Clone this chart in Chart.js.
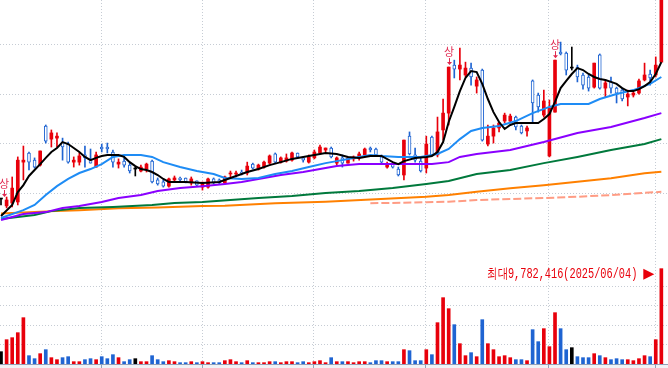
<!DOCTYPE html>
<html>
<head>
<meta charset="utf-8">
<script src="https://cdn.jsdelivr.net/npm/chart.js@4.4.1/dist/chart.umd.min.js"></script>
<style>
  html, body { margin: 0; padding: 0; background: #fff; }
  #wrap { position: relative; width: 668px; height: 368px; overflow: hidden; }
  #priceBox { position: absolute; left: 0; top: 0; width: 668px; height: 249px; }
  #volBox { position: absolute; left: 0; top: 249px; width: 668px; height: 119px; }
</style>
</head>
<body>
<div id="wrap">
  <div id="priceBox"><canvas id="price"></canvas></div>
  <div id="volBox"><canvas id="volume"></canvas></div>
</div>
<script>
//일봉 데이터 (왼쪽부터 119일): 시가, 고가, 저가, 종가, 거래량
const opens = [1885,1745,1805,1825,2630,2815,2670,2570,3360,3095,3115,3035,2995,2630,2630,2775,2695,2530,2935,2935,
  2835,2590,2650,2570,2490,2450,2490,2650,2270,2230,2145,2270,2310,2310,2210,2250,2125,2125,2290,2270,
  2210,2390,2390,2430,2410,2590,2490,2530,2610,2795,2630,2650,2670,2815,2715,2630,2715,2815,2875,2915,
  2610,2715,2610,2695,2715,2775,2915,2895,2735,2530,2590,2490,2370,3155,2775,2650,2510,3135,2775,3280,
  3620,4590,4510,4390,4530,4165,4490,2995,3155,3320,3460,3460,3540,3360,3260,4270,3985,3580,2755,3640,
  4855,4835,4530,4550,4390,4350,4145,4795,4125,4250,4125,4085,3945,3985,4025,4290,4410,4390,4650];
const highs = [1885,1925,2330,2735,2955,2835,2715,2855,3380,3280,3220,3115,3035,2735,2815,2955,2895,2835,2995,3015,
  2875,2695,2715,2610,2530,2570,2610,2670,2310,2270,2310,2350,2330,2310,2330,2250,2230,2310,2310,2290,
  2350,2450,2450,2470,2630,2610,2590,2650,2775,2815,2735,2795,2835,2815,2735,2775,2875,2975,2915,2935,
  2735,2775,2735,2755,2835,2915,2935,2915,2775,2630,2610,2530,3075,3240,2915,2715,3155,3155,3540,3905,
  4550,4690,4935,4650,4630,4350,4510,3380,3380,3440,3620,3600,3560,3380,3360,4290,4025,4085,3885,4690,
  5055,4855,4955,4590,4430,4390,4630,4815,4290,4350,4145,4125,4085,4045,4310,4630,4490,4755,5965];
const lows = [1765,1705,1725,1765,2270,2470,2510,2550,3015,2935,2935,2670,2610,2530,2570,2530,2610,2530,2835,2815,
  2530,2510,2530,2410,2350,2430,2430,2210,2165,2125,2125,2230,2230,2210,2165,2145,2065,2105,2190,2190,
  2190,2330,2330,2370,2370,2490,2470,2510,2590,2610,2610,2630,2650,2715,2630,2610,2695,2815,2835,2715,
  2570,2530,2610,2650,2670,2755,2835,2755,2610,2510,2510,2350,2270,2775,2630,2430,2410,2755,2735,3075,
  3380,4330,4290,4350,4185,4025,3055,2955,3015,3240,3420,3440,3280,3200,3155,3420,3640,3540,2735,3640,
  4795,4390,4490,4250,4105,4065,4125,4105,3945,4025,3825,3865,3765,3945,4005,4270,4185,4350,4650];
const closes = [1885,1865,2105,2670,2670,2630,2530,2855,3055,3220,3155,2935,2630,2670,2755,2715,2610,2775,2895,2895,
  2630,2630,2570,2450,2490,2530,2590,2230,2190,2145,2290,2310,2270,2230,2290,2165,2190,2290,2210,2210,
  2330,2410,2410,2410,2550,2510,2570,2630,2755,2630,2715,2715,2815,2735,2670,2735,2835,2935,2915,2735,
  2715,2610,2715,2735,2795,2895,2875,2775,2630,2590,2530,2370,3075,2795,2670,2450,2995,2775,3240,3620,
  4550,4510,4590,4530,4350,4290,3075,3155,3320,3420,3580,3560,3340,3220,3320,3825,3745,3865,3725,4690,
  4815,4490,4530,4350,4185,4125,4630,4125,4230,4125,4025,3905,4005,4025,4270,4390,4330,4590,5965];
const volumes = [1265000,2497000,2702000,3215000,4754000,855000,547000,1060000,1471000,650000,
  445000,650000,752000,239000,239000,445000,547000,445000,752000,547000,
  958000,650000,239000,445000,547000,239000,239000,855000,445000,239000,
  342000,239000,137000,137000,239000,137000,239000,137000,137000,137000,
  342000,445000,239000,137000,342000,137000,137000,137000,239000,239000,
  137000,239000,239000,137000,239000,137000,239000,342000,137000,650000,
  239000,239000,239000,137000,239000,239000,137000,342000,342000,239000,
  239000,239000,1471000,1368000,342000,342000,1471000,958000,4241000,6807000,
  5678000,4036000,2086000,855000,1163000,752000,4549000,2086000,1471000,752000,
  855000,650000,445000,445000,342000,3523000,2292000,3626000,1779000,5267000,
  3626000,1471000,1676000,752000,650000,650000,1060000,855000,650000,445000,
  547000,445000,445000,342000,547000,855000,752000,2497000,9782416];

//이동평균선 [일자 인덱스, 가격]
const ma5 = [[0,1540],[2,1765],[3,2025],[4,2165],[5,2350],[6,2470],[7,2590],[8,2715],[9,2835],[10,2915],
  [11,3035],[12,2995],[13,2915],[14,2835],[15,2735],[16,2670],[17,2715],[18,2755],[19,2775],[21,2775],
  [22,2735],[23,2630],[24,2550],[25,2490],[26,2470],[27,2430],[28,2370],[29,2290],[30,2230],[33,2230],
  [36,2210],[39,2230],[40,2270],[42,2350],[44,2430],[46,2490],[48,2570],[50,2630],[52,2695],[54,2735],
  [56,2775],[58,2815],[60,2795],[62,2735],[64,2715],[66,2755],[68,2755],[70,2630],[71,2590],[72,2650],
  [74,2715],[76,2735],[77,2755],[78,2835],[79,3035],[80,3440],[81,3745],[82,4065],[83,4330],[84,4470],
  [85,4450],[86,4210],[87,3905],[88,3640],[89,3440],[90,3300],[91,3380],[92,3420],[94,3420],[96,3420],
  [97,3500],[98,3600],[99,3845],[100,4125],[101,4270],[102,4410],[103,4530],[104,4490],[105,4410],[106,4350],
  [107,4310],[108,4290],[109,4250],[110,4210],[111,4125],[112,4065],[113,4065],[114,4105],[115,4165],[116,4250],
  [117,4410],[118,4650]];
const ma20 = [[0,1500],[4,1660],[6,1765],[8,1965],[10,2145],[12,2290],[14,2410],[16,2490],[18,2590],[20,2735],
  [22,2775],[25,2775],[27,2735],[29,2630],[32,2530],[35,2450],[38,2390],[40,2310],[43,2290],[46,2310],
  [49,2390],[52,2450],[55,2530],[58,2610],[60,2650],[63,2715],[66,2775],[68,2755],[71,2735],[75,2735],
  [78,2795],[80,2895],[82,3095],[84,3260],[86,3320],[89,3360],[92,3460],[95,3620],[98,3745],[100,3805],
  [105,3805],[107,3905],[110,4005],[113,4085],[116,4210],[118,4350]];
const ma60 = [[0,1460],[4,1580],[8,1620],[11,1705],[14,1745],[18,1825],[21,1905],[25,1965],[28,2045],[32,2105],
  [36,2145],[40,2190],[43,2230],[47,2310],[50,2370],[54,2430],[58,2510],[60,2550],[64,2590],[77,2590],
  [80,2630],[82,2735],[85,2795],[91,2875],[97,3035],[103,3220],[109,3340],[115,3520],[118,3620]];
const ma120 = [[0,1480],[6,1560],[9,1640],[14,1705],[20,1725],[27,1765],[31,1805],[36,1825],[46,1905],[52,1945],
  [58,2005],[64,2045],[70,2105],[76,2190],[80,2250],[85,2390],[91,2470],[97,2610],[103,2735],[109,2875],
  [115,2995],[118,3095]];
const ma240 = [[0,1590],[7,1630],[14,1660],[21,1700],[28,1715],[36,1745],[40,1750],[49,1800],[58,1830],[67,1880],
  [76,1930],[80,1965],[85,2030],[91,2100],[97,2165],[103,2235],[109,2305],[115,2405],[118,2435]];
const ma480 = [[66,1800],[72,1810],[76,1820],[80,1830],[85,1865],[91,1885],[97,1905],[103,1930],[109,1965],[115,2010],
  [118,2030]];

const monthStarts = [17.99, 35.97, 55.81, 75.82, 97.8, 116.87];
const priceGrid = [2000, 3000, 4000, 5000];
const volumeGrid = [2000000, 4000000, 6000000, 8000000];
const limitUpDays = [0, 80, 99];
const maxVolumeText = "최대9,782,416(2025/06/04)";

const RED = "#e8000b", BLUE = "#1f64d2", BLACK = "#000000";
const GRID = "#c6ccd4", AXIS = "#93a1b8";
const X_MIN = -0.179, X_MAX = 119.19;
const idx = closes.map((_, i) => i);

function candleColor(i) {
  if (closes[i] > opens[i]) return RED;
  if (closes[i] < opens[i]) return BLUE;
  return BLACK;
}

function maLine(pts, color, dash) {
  return {
    type: "line",
    data: pts.map(p => ({ x: p[0], y: p[1] })),
    borderColor: color,
    borderWidth: 2,
    borderDash: dash || [],
    pointRadius: 0,
    tension: 0,
    order: 0
  };
}

function xAxis(ticksOut) {
  return {
    type: "linear", min: X_MIN, max: X_MAX,
    offset: false,
    ticks: { display: false },
    afterBuildTicks: s => { s.ticks = monthStarts.map(v => ({ value: v })); },
    grid: { offset: false, color: GRID, drawTicks: ticksOut, tickLength: 4, tickColor: AXIS, tickBorderDash: [] },
    border: { display: true, color: AXIS, dash: [1, 2] }
  };
}

//상한가 표시
const limitMarks = {
  id: "limitMarks",
  afterDatasetsDraw(chart) {
    const { ctx, scales: { x, y } } = chart;
    ctx.save();
    limitUpDays.forEach(i => {
      const cx = Math.max(Math.round(x.getPixelForValue(i)), 4);
      const bottom = y.getPixelForValue(highs[i]) - 2;
      const top = bottom - 19;
      ctx.fillStyle = "#e0284f";
      ctx.strokeStyle = "#e0284f";
      ctx.font = "11px 'Noto Sans CJK KR'";
      ctx.textAlign = "center";
      ctx.textBaseline = "top";
      ctx.fillText("상", cx, top);
      ctx.lineWidth = 1;
      ctx.beginPath(); ctx.moveTo(cx + 0.5, top + 12); ctx.lineTo(cx + 0.5, bottom - 2); ctx.stroke();
      ctx.beginPath(); ctx.moveTo(cx - 2, bottom - 3); ctx.lineTo(cx + 3, bottom - 3); ctx.lineTo(cx + 0.5, bottom); ctx.closePath(); ctx.fill();
    });
    ctx.restore();
  }
};

//최대 거래량 표시
const maxMark = {
  id: "maxMark",
  beforeDraw(chart) {
    const { ctx, chartArea, height, width } = chart;
    ctx.save();
    ctx.fillStyle = "#f1f3f6";
    ctx.fillRect(0, chartArea.bottom, width, height - chartArea.bottom);
    ctx.restore();
  },
  afterDatasetsDraw(chart) {
    const { ctx, scales: { x, y } } = chart;
    const i = volumes.indexOf(Math.max(...volumes));
    const bx = x.getPixelForValue(i), by = y.getPixelForValue(volumes[i]);
    ctx.save();
    ctx.fillStyle = RED;
    ctx.beginPath(); ctx.moveTo(bx - 18, by); ctx.lineTo(bx - 7, by + 5.5); ctx.lineTo(bx - 18, by + 11); ctx.closePath(); ctx.fill();
    ctx.font = "14px 'Liberation Mono'";
    ctx.textAlign = "right";
    ctx.textBaseline = "middle";
    ctx.fillText(maxVolumeText, bx - 24, by + 6, 150);
    ctx.restore();
  }
};

const common = {
  responsive: true,
  maintainAspectRatio: false,
  animation: false,
  layout: { padding: 0 },
  plugins: { legend: { display: false }, tooltip: { enabled: false } }
};

//가격 차트
new Chart(document.getElementById("price"), {
  type: "bar",
  data: {
    datasets: [
      maLine(ma5, "#000000"),
      maLine(ma20, "#1e8cf5"),
      maLine(ma60, "#8a00ff"),
      maLine(ma120, "#00793c"),
      maLine(ma240, "#ff8000"),
      maLine(ma480, "#ff9c84", [8, 3]),
      {
        type: "bar",
        data: idx.map(i => ({ x: i, y: [opens[i], closes[i]] })),
        backgroundColor: c => candleColor(c.dataIndex) === BLUE ? "#ffffff" : candleColor(c.dataIndex),
        borderColor: c => candleColor(c.dataIndex),
        borderWidth: c => candleColor(c.dataIndex) === BLUE ? 1 : 0,
        borderSkipped: false,
        barThickness: 3,
        minBarLength: 1,
        grouped: false,
        order: 1
      },
      {
        type: "bar",
        data: idx.map(i => ({ x: i, y: [lows[i], highs[i]] })),
        backgroundColor: c => candleColor(c.dataIndex),
        barThickness: 1,
        grouped: false,
        order: 2
      }
    ]
  },
  options: {
    ...common,
    scales: {
      x: xAxis(false),
      y: {
        min: 875, max: 5905,
        ticks: { display: false },
        afterBuildTicks: s => { s.ticks = priceGrid.map(v => ({ value: v })); },
        grid: { color: GRID, drawTicks: false },
        border: { display: false, dash: [1, 2] }
      }
    }
  },
  plugins: [limitMarks]
});

//거래량 차트
new Chart(document.getElementById("volume"), {
  type: "bar",
  data: {
    datasets: [{
      data: idx.map(i => ({ x: i, y: volumes[i] })),
      backgroundColor: c => candleColor(c.dataIndex),
      barThickness: 3,
      grouped: false
    }]
  },
  options: {
    ...common,
    scales: {
      x: xAxis(true),
      y: {
        min: 0, max: 11800000,
        ticks: { display: false },
        afterBuildTicks: s => { s.ticks = volumeGrid.map(v => ({ value: v })); },
        grid: { color: GRID, drawTicks: false },
        border: { display: false, dash: [1, 2] }
      }
    }
  },
  plugins: [maxMark]
});
</script>
</body>
</html>
